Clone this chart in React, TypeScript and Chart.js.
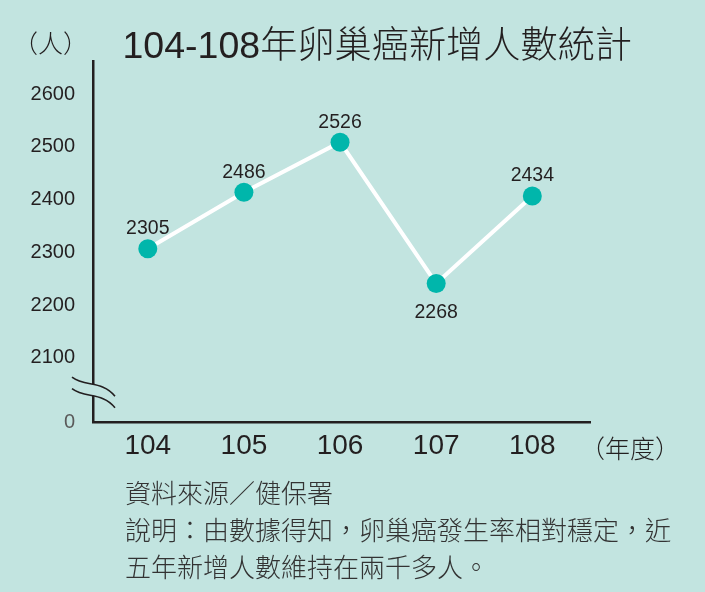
import React, { useEffect, useRef } from "react";
import { Chart, registerables } from "chart.js";

Chart.register(...registerables);

// ---- data ----
const years = [104, 105, 106, 107, 108];
const yearLabels = ["104", "105", "106", "107", "108"];
// numbers printed next to each point
const reportedCases = [2305, 2486, 2526, 2268, 2434];
// heights at which the points are drawn in the picture (axis units)
const plottedCases = [2307, 2414, 2509, 2241, 2407];
const yTickValues = [2100, 2200, 2300, 2400, 2500, 2600];
const yBreakValue = 1977; // bottom of the broken axis, labelled "0"
const yBreakLabel = "0";
const yTopValue = 2662;
const labelBelow = [false, false, false, true, false];

const titleNumber = "104-108";
const titleText = "年卵巢癌新增人數統計";
const yUnit = "（人）";
const xUnit = "（年度）";
const noteLines = [
  "資料來源／健保署",
  "說明：由數據得知，卵巢癌發生率相對穩定，近",
  "五年新增人數維持在兩千多人。",
];

// ---- styles ----
const BG = "#c2e4e0";
const POINT = "#00b6ab";
const INK = "#231f20";
const LATIN = '"Liberation Sans", Arial, Helvetica, sans-serif';
const CJK = '"Noto Sans CJK TC", "Noto Sans CJK SC", sans-serif';

const valueLabels = {
  id: "valueLabels",
  afterDatasetsDraw(chart: any) {
    const ctx = chart.ctx;
    const meta = chart.getDatasetMeta(0);
    ctx.save();
    ctx.font = `19.5px ${LATIN}`;
    ctx.fillStyle = INK;
    ctx.textAlign = "center";
    ctx.textBaseline = "middle";
    meta.data.forEach((pt: any, i: number) => {
      const dy = labelBelow[i] ? 29 : -20;
      ctx.fillText(String(reportedCases[i]), pt.x, pt.y + dy);
    });
    ctx.restore();
  },
};

const axisBreak = {
  id: "axisBreak",
  afterDraw(chart: any) {
    const { ctx, chartArea } = chart;
    const x0 = chartArea.left;
    const yb = chartArea.bottom;
    const c = (off: number) => ({
      s: [x0 - 21, yb - 45.5 + off],
      c1: [x0 - 8, yb - 35.5 + off],
      c2: [x0 + 9, yb - 42.5 + off],
      e: [x0 + 22, yb - 26.5 + off],
    });
    const up = c(0);
    const lo = c(11.5);
    ctx.save();
    ctx.beginPath();
    ctx.moveTo(up.s[0], up.s[1]);
    ctx.bezierCurveTo(up.c1[0], up.c1[1], up.c2[0], up.c2[1], up.e[0], up.e[1]);
    ctx.lineTo(lo.e[0], lo.e[1]);
    ctx.bezierCurveTo(lo.c2[0], lo.c2[1], lo.c1[0], lo.c1[1], lo.s[0], lo.s[1]);
    ctx.closePath();
    ctx.fillStyle = BG;
    ctx.fill();
    ctx.strokeStyle = INK;
    ctx.lineWidth = 1.6;
    [up, lo].forEach((k) => {
      ctx.beginPath();
      ctx.moveTo(k.s[0], k.s[1]);
      ctx.bezierCurveTo(k.c1[0], k.c1[1], k.c2[0], k.c2[1], k.e[0], k.e[1]);
      ctx.stroke();
    });
    ctx.restore();
  },
};

export default function App() {
  const canvasRef = useRef<HTMLCanvasElement | null>(null);

  useEffect(() => {
    if (!canvasRef.current) return;
    const chart = new Chart(canvasRef.current, {
      type: "line",
      data: {
        datasets: [
          {
            data: years.map((y, i) => ({ x: y, y: plottedCases[i] })),
            borderColor: "#ffffff",
            borderWidth: 4,
            pointBackgroundColor: POINT,
            pointBorderWidth: 0,
            pointRadius: 9.5,
            pointHoverRadius: 9.5,
            tension: 0,
          },
        ],
      },
      options: {
        responsive: false,
        animation: false,
        events: [],
        layout: { padding: { top: 61.5, right: 115, left: 0, bottom: 0 } },
        plugins: {
          legend: { display: false },
          tooltip: { enabled: false },
          title: { display: false },
        },
        scales: {
          x: {
            type: "linear",
            min: 103.43,
            max: 108.6,
            afterBuildTicks: (scale: any) => {
              scale.ticks = years.map((v) => ({ value: v }));
            },
            afterFit: (scale: any) => {
              scale.height = 169.3;
            },
            grid: { display: false, drawTicks: false },
            border: { display: true, color: INK, width: 2.5 },
            ticks: {
              autoSkip: false,
              maxRotation: 0,
              padding: 10,
              color: INK,
              font: { family: LATIN, size: 28, lineHeight: 1 },
              callback: (v: any) => yearLabels[years.indexOf(Number(v))] ?? "",
            },
          },
          y: {
            type: "linear",
            min: yBreakValue,
            max: yTopValue,
            afterBuildTicks: (scale: any) => {
              scale.ticks = [yBreakValue, ...yTickValues].map((v) => ({ value: v }));
            },
            afterFit: (scale: any) => {
              scale.width = 93;
            },
            grid: { display: false, drawTicks: false },
            border: { display: true, color: INK, width: 2.5 },
            ticks: {
              autoSkip: false,
              padding: 18,
              color: (ctx: any) => (ctx.tick && ctx.tick.value === yBreakValue ? "#5a5a5a" : INK),
              font: { family: LATIN, size: 20, lineHeight: 1 },
              callback: (v: any) => (Number(v) === yBreakValue ? yBreakLabel : String(v)),
            },
          },
        },
      },
      plugins: [valueLabels, axisBreak],
    } as any);
    return () => chart.destroy();
  }, []);

  return (
    <div
      lang="zh-Hant"
      style={{
        position: "absolute",
        left: 0,
        top: 0,
        width: 705,
        height: 592,
        background: BG,
        overflow: "hidden",
      }}
    >
      <canvas
        ref={canvasRef}
        width={705}
        height={592}
        style={{ position: "absolute", left: 0, top: 0, width: 705, height: 592 }}
      />
      <div
        style={{
          position: "absolute",
          left: 13,
          top: 29.5,
          fontFamily: CJK,
          fontWeight: 300,
          fontSize: 25,
          lineHeight: "25px",
          color: INK,
          whiteSpace: "nowrap",
        }}
      >
        {yUnit}
      </div>
      <div
        style={{
          position: "absolute",
          left: 122.5,
          top: 23.4,
          fontFamily: `${LATIN.split(",")[0]}, ${CJK}`,
          fontSize: 37.5,
          lineHeight: "38px",
          color: INK,
          whiteSpace: "nowrap",
        }}
      >
        {titleNumber}
        <span style={{ fontFamily: CJK, fontWeight: 300, fontSize: 37.2 }}>{titleText}</span>
      </div>
      <div
        style={{
          position: "absolute",
          left: 580,
          top: 434.6,
          fontFamily: CJK,
          fontWeight: 300,
          fontSize: 25,
          lineHeight: "25px",
          color: INK,
          whiteSpace: "nowrap",
        }}
      >
        {xUnit}
      </div>
      <div
        style={{
          position: "absolute",
          left: 125,
          top: 473,
          fontFamily: CJK,
          fontWeight: 300,
          fontSize: 26,
          lineHeight: "37px",
          color: "#333333",
          whiteSpace: "nowrap",
        }}
      >
        {noteLines.map((l, i) => (
          <div key={i}>{l}</div>
        ))}
      </div>
    </div>
  );
}
